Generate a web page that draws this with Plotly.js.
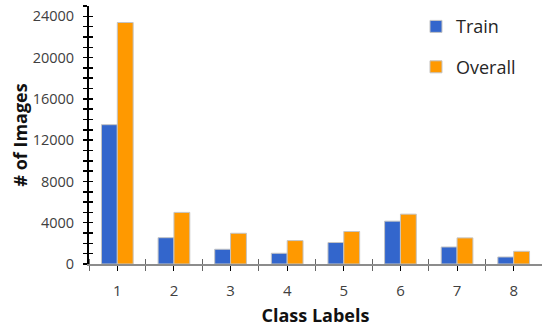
<!DOCTYPE html>
<html>
<head>
<meta charset="utf-8">
<script src="https://cdn.plot.ly/plotly-3.0.1.min.js"></script>
<style>
  html, body { margin: 0; padding: 0; background: #fff; }
  #chart { width: 542px; height: 328px; }
</style>
</head>
<body>
<div id="chart"></div>
<script>
// Image counts per class label
const classLabels = [1, 2, 3, 4, 5, 6, 7, 8];
const trainCounts = [13500, 2550, 1430, 1040, 2080, 4150, 1650, 680];
const overallCounts = [23400, 5000, 2980, 2270, 3150, 4830, 2530, 1230];
const yTickValues = [0, 4000, 8000, 12000, 16000, 20000, 24000];
const yTickText = ['0', '4000', '8000', '12000', '16000', '20000', '24000'];

const FONT = '"Open Sans", "Liberation Sans", sans-serif';
const barOutline = { color: '#c4c4c4', width: 1 };

const traces = [
  {
    type: 'bar', name: 'Train', x: classLabels, y: trainCounts,
    marker: { color: '#3366cc', line: barOutline }, legendgroup: 'a'
  },
  {
    type: 'bar', name: 'Overall', x: classLabels, y: overallCounts,
    marker: { color: '#ff9900', line: barOutline }, legendgroup: 'b'
  },
  // invisible carrier for the inner half of the crossing tick marks
  {
    type: 'scatter', x: [classLabels[0]], y: [0], xaxis: 'x2', yaxis: 'y2',
    mode: 'markers', marker: { opacity: 0 }, showlegend: false, hoverinfo: 'skip'
  }
];

const layout = {
  width: 542, height: 328,
  margin: { l: 89, r: 0, t: 6, b: 64, autoexpand: false },
  paper_bgcolor: '#ffffff', plot_bgcolor: '#ffffff',
  font: { family: FONT, color: '#404040', size: 14 },
  barmode: 'group', bargap: 0.44, bargroupgap: 0,
  showlegend: true,
  legend: {
    xref: 'container', yref: 'container', x: 0.7675, y: 0.975,
    xanchor: 'left', yanchor: 'top',
    font: { family: FONT, size: 18, color: '#262626' },
    tracegroupgap: 14, bgcolor: 'rgba(0,0,0,0)'
  },
  xaxis: {
    type: 'linear', range: [0.5, 8.5], dtick: 1, tick0: 1,
    showgrid: false, zeroline: false,
    showline: true, linecolor: '#8c8c8c', linewidth: 1.5,
    ticks: 'outside', ticklen: 5, tickcolor: '#000', tickwidth: 1,
    ticklabelstandoff: 7,
    minor: { dtick: 1, tick0: 0.5, ticks: 'outside', ticklen: 5, tickcolor: '#666', tickwidth: 1 },
    tickfont: { family: FONT, size: 15, color: '#404040' },
    title: { text: 'Class Labels', font: { family: FONT, size: 18, color: '#111', weight: 'bold' }, standoff: 11 },
    fixedrange: true
  },
  xaxis2: {
    overlaying: 'x', matches: 'x', range: [0.5, 8.5],
    showgrid: false, zeroline: false, showline: false, showticklabels: false,
    ticks: '', minor: { dtick: 1, tick0: 0.5, ticks: 'inside', ticklen: 5, tickcolor: '#666', tickwidth: 1 }
  },
  yaxis: {
    range: [0, 25000], tickvals: yTickValues, ticktext: yTickText,
    showgrid: false, zeroline: false,
    showline: true, linecolor: '#000', linewidth: 2,
    ticks: 'outside', ticklen: 4, tickcolor: '#000', tickwidth: 1.5,
    ticklabelstandoff: 6,
    minor: { dtick: 1000, ticks: 'outside', ticklen: 4, tickcolor: '#000', tickwidth: 1.5 },
    tickfont: { family: FONT, size: 14.5, color: '#404040' },
    title: { text: '# of Images', font: { family: FONT, size: 18, color: '#111', weight: 'bold' }, standoff: 0 },
    fixedrange: true
  },
  yaxis2: {
    overlaying: 'y', matches: 'y', range: [0, 25000],
    showgrid: false, zeroline: false, showline: false, showticklabels: false,
    tickvals: yTickValues, ticks: 'inside', ticklen: 4, tickcolor: '#000', tickwidth: 1.5,
    minor: { dtick: 1000, ticks: 'inside', ticklen: 4, tickcolor: '#000', tickwidth: 1.5 }
  }
};

Plotly.newPlot('chart', traces, layout, { staticPlot: true, displayModeBar: false });
</script>
</body>
</html>
